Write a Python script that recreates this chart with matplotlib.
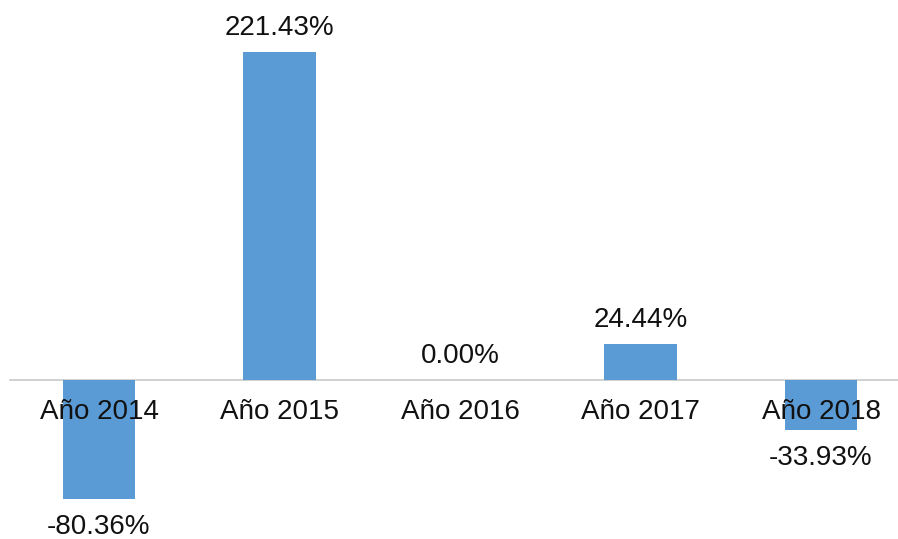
import numpy as np
import matplotlib.pyplot as plt

categories = ['Año 2014', 'Año 2015', 'Año 2016', 'Año 2017', 'Año 2018']
values = [-80.36, 221.43, 0.00, 24.44, -33.93]
labels = ['-80.36%', '221.43%', '0.00%', '24.44%', '-33.93%']

plt.rcParams['font.family'] = ['Liberation Sans', 'DejaVu Sans']

fig = plt.figure(figsize=(8.98, 5.39), dpi=100)
ax = fig.add_axes([0, 0, 1, 1])

x = np.arange(len(categories))
ax.bar(x, values, width=0.4, color='#5B9BD5', zorder=2)

# pixel scale: 180.5 px per category, 1.481 px per percent
ax.set_xlim(-99 / 180.5, (898 - 99) / 180.5)
ax.set_ylim(-(539 - 380) / 1.481, 380 / 1.481)
ax.axhline(0, xmin=10 / 898, color='#c8c8c8', lw=1.2, zorder=1)

for i, v in enumerate(values):
    off = 24 if v >= 0 else -28
    ax.annotate(labels[i], (x[i], v), xytext=(0, off), textcoords='offset pixels',
                ha='center', va='center', fontsize=20, color='#111111')
    ax.annotate(categories[i], (x[i], 0), xytext=(0, -32), textcoords='offset pixels',
                ha='center', va='center', fontsize=20, color='#111111', zorder=3)

ax.axis('off')
fig.savefig('out.png', dpi=100)
